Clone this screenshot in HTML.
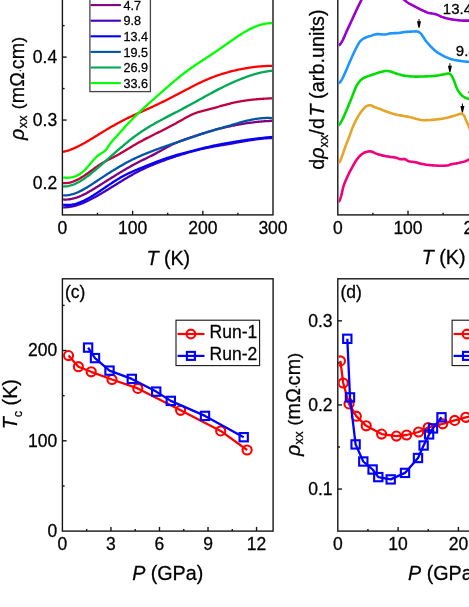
<!DOCTYPE html>
<html><head><meta charset="utf-8"><title>figure</title>
<style>html,body{margin:0;padding:0;background:#fff;overflow:hidden}svg{will-change:transform}body{width:469px;height:607px;font-family:"Liberation Sans", sans-serif}svg{display:block}</style></head>
<body>
<svg width="469" height="607" viewBox="0 0 469 607" font-family='"Liberation Sans", sans-serif' fill="#000" style="display:block">
<style>text{stroke:#000;stroke-width:0.28px;stroke-linejoin:round}</style>
<rect x="0" y="0" width="469" height="607" fill="#fff"/>
<defs><clipPath id="clip_a"><rect x="63.10" y="-36.80" width="209.20" height="251.00"/></clipPath><clipPath id="clip_b"><rect x="338.50" y="-36.80" width="209.30" height="251.00"/></clipPath><clipPath id="clip_c"><rect x="63.10" y="279.50" width="209.30" height="250.90"/></clipPath><clipPath id="clip_d"><rect x="338.50" y="279.50" width="209.30" height="250.90"/></clipPath></defs>
<rect x="62.40" y="-37.50" width="210.60" height="252.40" fill="none" stroke="#161616" stroke-width="1.4"/>
<text x="62.40" y="233.80" font-size="17.5" text-anchor="middle" >0</text>
<line x1="132.60" y1="214.90" x2="132.60" y2="210.70" stroke="#161616" stroke-width="1.4" stroke-linecap="butt"/>
<text x="132.60" y="233.80" font-size="17.5" text-anchor="middle" >100</text>
<line x1="202.80" y1="214.90" x2="202.80" y2="210.70" stroke="#161616" stroke-width="1.4" stroke-linecap="butt"/>
<text x="202.80" y="233.80" font-size="17.5" text-anchor="middle" >200</text>
<text x="273.00" y="233.80" font-size="17.5" text-anchor="middle" >300</text>
<line x1="97.50" y1="214.90" x2="97.50" y2="212.70" stroke="#161616" stroke-width="1.4" stroke-linecap="butt"/>
<line x1="167.70" y1="214.90" x2="167.70" y2="212.70" stroke="#161616" stroke-width="1.4" stroke-linecap="butt"/>
<line x1="237.90" y1="214.90" x2="237.90" y2="212.70" stroke="#161616" stroke-width="1.4" stroke-linecap="butt"/>
<line x1="62.40" y1="183.00" x2="66.60" y2="183.00" stroke="#161616" stroke-width="1.4" stroke-linecap="butt"/>
<text x="57.20" y="188.90" font-size="17.5" text-anchor="end" >0.2</text>
<line x1="62.40" y1="120.05" x2="66.60" y2="120.05" stroke="#161616" stroke-width="1.4" stroke-linecap="butt"/>
<text x="57.20" y="125.95" font-size="17.5" text-anchor="end" >0.3</text>
<line x1="62.40" y1="57.10" x2="66.60" y2="57.10" stroke="#161616" stroke-width="1.4" stroke-linecap="butt"/>
<text x="57.20" y="63.00" font-size="17.5" text-anchor="end" >0.4</text>
<line x1="62.40" y1="-5.85" x2="66.60" y2="-5.85" stroke="#161616" stroke-width="1.4" stroke-linecap="butt"/>
<line x1="62.40" y1="151.53" x2="64.60" y2="151.53" stroke="#161616" stroke-width="1.4" stroke-linecap="butt"/>
<line x1="62.40" y1="88.58" x2="64.60" y2="88.58" stroke="#161616" stroke-width="1.4" stroke-linecap="butt"/>
<line x1="62.40" y1="25.62" x2="64.60" y2="25.62" stroke="#161616" stroke-width="1.4" stroke-linecap="butt"/>
<g clip-path="url(#clip_a)">
<path d="M63.00,207.30 L63.96,207.32 L64.92,207.30 L65.88,207.27 L66.84,207.20 L67.79,207.12 L68.75,207.01 L69.71,206.88 L70.67,206.72 L71.63,206.54 L72.59,206.35 L73.55,206.13 L74.51,205.89 L75.47,205.63 L76.42,205.36 L77.38,205.06 L78.34,204.75 L79.30,204.42 L80.26,204.07 L81.22,203.71 L82.18,203.33 L83.14,202.94 L84.10,202.53 L85.05,202.11 L86.01,201.68 L86.97,201.23 L87.93,200.78 L88.89,200.31 L89.85,199.83 L90.81,199.34 L91.77,198.84 L92.73,198.33 L93.68,197.81 L94.64,197.29 L95.60,196.76 L96.56,196.22 L97.52,195.67 L98.48,195.12 L99.44,194.56 L100.40,194.00 L101.36,193.44 L102.32,192.87 L103.27,192.30 L104.23,191.73 L105.19,191.15 L106.15,190.57 L107.11,189.99 L108.07,189.40 L109.03,188.81 L109.99,188.23 L110.95,187.64 L111.90,187.04 L112.86,186.45 L113.82,185.86 L114.78,185.26 L115.74,184.67 L116.70,184.07 L117.66,183.48 L118.62,182.89 L119.58,182.29 L120.53,181.70 L121.49,181.11 L122.45,180.52 L123.41,179.93 L124.37,179.35 L125.33,178.77 L126.29,178.20 L127.25,177.64 L128.21,177.07 L129.16,176.52 L130.12,175.97 L131.08,175.42 L132.04,174.88 L133.00,174.35 L133.96,173.82 L134.92,173.30 L135.88,172.79 L136.84,172.28 L137.79,171.78 L138.75,171.28 L139.71,170.80 L140.67,170.32 L141.63,169.84 L142.59,169.38 L143.55,168.92 L144.51,168.47 L145.47,168.02 L146.42,167.58 L147.38,167.15 L148.34,166.72 L149.30,166.30 L150.26,165.89 L151.22,165.48 L152.18,165.08 L153.14,164.68 L154.10,164.28 L155.05,163.89 L156.01,163.51 L156.97,163.13 L157.93,162.75 L158.89,162.38 L159.85,162.01 L160.81,161.65 L161.77,161.29 L162.73,160.93 L163.68,160.58 L164.64,160.23 L165.60,159.89 L166.56,159.54 L167.52,159.20 L168.48,158.87 L169.44,158.53 L170.40,158.20 L171.36,157.87 L172.32,157.55 L173.27,157.23 L174.23,156.91 L175.19,156.59 L176.15,156.28 L177.11,155.96 L178.07,155.65 L179.03,155.35 L179.99,155.05 L180.95,154.74 L181.90,154.45 L182.86,154.15 L183.82,153.86 L184.78,153.57 L185.74,153.29 L186.70,153.00 L187.66,152.73 L188.62,152.45 L189.58,152.18 L190.53,151.91 L191.49,151.64 L192.45,151.38 L193.41,151.13 L194.37,150.87 L195.33,150.62 L196.29,150.38 L197.25,150.14 L198.21,149.90 L199.16,149.67 L200.12,149.44 L201.08,149.22 L202.04,149.00 L203.00,148.78 L203.96,148.57 L204.92,148.36 L205.88,148.15 L206.84,147.95 L207.79,147.76 L208.75,147.56 L209.71,147.37 L210.67,147.18 L211.63,147.00 L212.59,146.82 L213.55,146.64 L214.51,146.47 L215.47,146.29 L216.42,146.12 L217.38,145.96 L218.34,145.79 L219.30,145.63 L220.26,145.47 L221.22,145.31 L222.18,145.16 L223.14,145.00 L224.10,144.85 L225.05,144.69 L226.01,144.53 L226.97,144.37 L227.93,144.20 L228.89,144.04 L229.85,143.87 L230.81,143.70 L231.77,143.53 L232.73,143.36 L233.68,143.19 L234.64,143.01 L235.60,142.84 L236.56,142.66 L237.52,142.49 L238.48,142.32 L239.44,142.14 L240.40,141.97 L241.36,141.80 L242.32,141.63 L243.27,141.46 L244.23,141.29 L245.19,141.12 L246.15,140.96 L247.11,140.79 L248.07,140.63 L249.03,140.48 L249.99,140.32 L250.95,140.17 L251.90,140.02 L252.86,139.88 L253.82,139.74 L254.78,139.60 L255.74,139.46 L256.70,139.34 L257.66,139.21 L258.62,139.09 L259.58,138.98 L260.53,138.87 L261.49,138.76 L262.45,138.66 L263.41,138.57 L264.37,138.48 L265.33,138.40 L266.29,138.33 L267.25,138.26 L268.21,138.20 L269.16,138.15 L270.12,138.11 L271.08,138.07 L272.04,138.04 L273.00,138.02" fill="none" stroke="#4000BF" stroke-width="2.3" stroke-linejoin="round" stroke-linecap="butt" />
<path d="M63.00,204.63 L63.96,204.78 L64.92,204.88 L65.88,204.95 L66.84,204.98 L67.79,204.98 L68.75,204.95 L69.71,204.88 L70.67,204.78 L71.63,204.65 L72.59,204.49 L73.55,204.30 L74.51,204.08 L75.47,203.83 L76.42,203.56 L77.38,203.26 L78.34,202.93 L79.30,202.58 L80.26,202.21 L81.22,201.82 L82.18,201.41 L83.14,200.97 L84.10,200.52 L85.05,200.04 L86.01,199.55 L86.97,199.05 L87.93,198.53 L88.89,197.99 L89.85,197.44 L90.81,196.87 L91.77,196.30 L92.73,195.71 L93.68,195.11 L94.64,194.50 L95.60,193.89 L96.56,193.27 L97.52,192.64 L98.48,192.00 L99.44,191.36 L100.40,190.72 L101.36,190.07 L102.32,189.42 L103.27,188.77 L104.23,188.12 L105.19,187.46 L106.15,186.81 L107.11,186.16 L108.07,185.51 L109.03,184.87 L109.99,184.22 L110.95,183.59 L111.90,182.95 L112.86,182.32 L113.82,181.70 L114.78,181.09 L115.74,180.48 L116.70,179.88 L117.66,179.29 L118.62,178.71 L119.58,178.15 L120.53,177.59 L121.49,177.04 L122.45,176.51 L123.41,175.99 L124.37,175.48 L125.33,174.98 L126.29,174.49 L127.25,174.02 L128.21,173.55 L129.16,173.09 L130.12,172.65 L131.08,172.21 L132.04,171.77 L133.00,171.35 L133.96,170.93 L134.92,170.52 L135.88,170.11 L136.84,169.70 L137.79,169.30 L138.75,168.91 L139.71,168.51 L140.67,168.12 L141.63,167.73 L142.59,167.34 L143.55,166.95 L144.51,166.56 L145.47,166.17 L146.42,165.78 L147.38,165.39 L148.34,165.01 L149.30,164.63 L150.26,164.25 L151.22,163.87 L152.18,163.49 L153.14,163.12 L154.10,162.74 L155.05,162.37 L156.01,162.01 L156.97,161.64 L157.93,161.28 L158.89,160.92 L159.85,160.57 L160.81,160.21 L161.77,159.86 L162.73,159.52 L163.68,159.18 L164.64,158.84 L165.60,158.51 L166.56,158.18 L167.52,157.86 L168.48,157.54 L169.44,157.23 L170.40,156.92 L171.36,156.62 L172.32,156.33 L173.27,156.03 L174.23,155.75 L175.19,155.46 L176.15,155.18 L177.11,154.91 L178.07,154.63 L179.03,154.36 L179.99,154.10 L180.95,153.83 L181.90,153.57 L182.86,153.31 L183.82,153.05 L184.78,152.80 L185.74,152.54 L186.70,152.29 L187.66,152.04 L188.62,151.79 L189.58,151.54 L190.53,151.30 L191.49,151.05 L192.45,150.81 L193.41,150.56 L194.37,150.32 L195.33,150.07 L196.29,149.83 L197.25,149.59 L198.21,149.34 L199.16,149.10 L200.12,148.86 L201.08,148.62 L202.04,148.38 L203.00,148.15 L203.96,147.91 L204.92,147.68 L205.88,147.45 L206.84,147.22 L207.79,147.00 L208.75,146.77 L209.71,146.55 L210.67,146.34 L211.63,146.12 L212.59,145.91 L213.55,145.70 L214.51,145.50 L215.47,145.29 L216.42,145.09 L217.38,144.90 L218.34,144.71 L219.30,144.52 L220.26,144.33 L221.22,144.15 L222.18,143.98 L223.14,143.80 L224.10,143.63 L225.05,143.45 L226.01,143.28 L226.97,143.11 L227.93,142.94 L228.89,142.78 L229.85,142.61 L230.81,142.45 L231.77,142.28 L232.73,142.12 L233.68,141.96 L234.64,141.80 L235.60,141.64 L236.56,141.49 L237.52,141.33 L238.48,141.18 L239.44,141.03 L240.40,140.88 L241.36,140.73 L242.32,140.58 L243.27,140.44 L244.23,140.30 L245.19,140.15 L246.15,140.01 L247.11,139.88 L248.07,139.74 L249.03,139.60 L249.99,139.47 L250.95,139.34 L251.90,139.21 L252.86,139.08 L253.82,138.96 L254.78,138.83 L255.74,138.71 L256.70,138.59 L257.66,138.47 L258.62,138.35 L259.58,138.24 L260.53,138.13 L261.49,138.02 L262.45,137.91 L263.41,137.80 L264.37,137.70 L265.33,137.59 L266.29,137.49 L267.25,137.40 L268.21,137.30 L269.16,137.21 L270.12,137.11 L271.08,137.02 L272.04,136.94 L273.00,136.85" fill="none" stroke="#0000FF" stroke-width="2.3" stroke-linejoin="round" stroke-linecap="butt" />
<path d="M63.00,199.42 L63.96,199.50 L64.92,199.54 L65.88,199.55 L66.84,199.53 L67.79,199.47 L68.75,199.38 L69.71,199.26 L70.67,199.11 L71.63,198.93 L72.59,198.72 L73.55,198.49 L74.51,198.23 L75.47,197.94 L76.42,197.63 L77.38,197.30 L78.34,196.94 L79.30,196.57 L80.26,196.17 L81.22,195.76 L82.18,195.32 L83.14,194.87 L84.10,194.40 L85.05,193.92 L86.01,193.42 L86.97,192.91 L87.93,192.38 L88.89,191.85 L89.85,191.30 L90.81,190.74 L91.77,190.17 L92.73,189.60 L93.68,189.02 L94.64,188.43 L95.60,187.84 L96.56,187.24 L97.52,186.64 L98.48,186.03 L99.44,185.43 L100.40,184.82 L101.36,184.22 L102.32,183.61 L103.27,183.01 L104.23,182.40 L105.19,181.80 L106.15,181.20 L107.11,180.59 L108.07,179.99 L109.03,179.39 L109.99,178.79 L110.95,178.19 L111.90,177.59 L112.86,177.00 L113.82,176.40 L114.78,175.81 L115.74,175.21 L116.70,174.62 L117.66,174.03 L118.62,173.44 L119.58,172.86 L120.53,172.27 L121.49,171.69 L122.45,171.11 L123.41,170.54 L124.37,169.97 L125.33,169.40 L126.29,168.84 L127.25,168.28 L128.21,167.73 L129.16,167.19 L130.12,166.65 L131.08,166.11 L132.04,165.58 L133.00,165.06 L133.96,164.54 L134.92,164.02 L135.88,163.51 L136.84,163.01 L137.79,162.51 L138.75,162.01 L139.71,161.52 L140.67,161.04 L141.63,160.56 L142.59,160.08 L143.55,159.61 L144.51,159.14 L145.47,158.68 L146.42,158.21 L147.38,157.74 L148.34,157.28 L149.30,156.81 L150.26,156.33 L151.22,155.86 L152.18,155.37 L153.14,154.89 L154.10,154.39 L155.05,153.89 L156.01,153.38 L156.97,152.86 L157.93,152.33 L158.89,151.79 L159.85,151.25 L160.81,150.70 L161.77,150.15 L162.73,149.61 L163.68,149.06 L164.64,148.52 L165.60,147.98 L166.56,147.45 L167.52,146.93 L168.48,146.42 L169.44,145.92 L170.40,145.43 L171.36,144.96 L172.32,144.50 L173.27,144.05 L174.23,143.62 L175.19,143.19 L176.15,142.78 L177.11,142.37 L178.07,141.97 L179.03,141.59 L179.99,141.21 L180.95,140.83 L181.90,140.47 L182.86,140.11 L183.82,139.76 L184.78,139.41 L185.74,139.07 L186.70,138.73 L187.66,138.40 L188.62,138.07 L189.58,137.75 L190.53,137.43 L191.49,137.11 L192.45,136.79 L193.41,136.47 L194.37,136.16 L195.33,135.84 L196.29,135.53 L197.25,135.22 L198.21,134.91 L199.16,134.60 L200.12,134.29 L201.08,133.98 L202.04,133.68 L203.00,133.38 L203.96,133.08 L204.92,132.78 L205.88,132.48 L206.84,132.19 L207.79,131.90 L208.75,131.62 L209.71,131.33 L210.67,131.06 L211.63,130.78 L212.59,130.51 L213.55,130.24 L214.51,129.98 L215.47,129.72 L216.42,129.47 L217.38,129.22 L218.34,128.97 L219.30,128.73 L220.26,128.50 L221.22,128.26 L222.18,128.04 L223.14,127.82 L224.10,127.60 L225.05,127.38 L226.01,127.16 L226.97,126.95 L227.93,126.74 L228.89,126.53 L229.85,126.33 L230.81,126.13 L231.77,125.93 L232.73,125.73 L233.68,125.54 L234.64,125.35 L235.60,125.17 L236.56,124.98 L237.52,124.80 L238.48,124.63 L239.44,124.45 L240.40,124.28 L241.36,124.12 L242.32,123.95 L243.27,123.79 L244.23,123.64 L245.19,123.48 L246.15,123.33 L247.11,123.19 L248.07,123.05 L249.03,122.91 L249.99,122.78 L250.95,122.65 L251.90,122.52 L252.86,122.40 L253.82,122.28 L254.78,122.17 L255.74,122.06 L256.70,121.95 L257.66,121.85 L258.62,121.76 L259.58,121.67 L260.53,121.58 L261.49,121.50 L262.45,121.42 L263.41,121.34 L264.37,121.27 L265.33,121.21 L266.29,121.15 L267.25,121.09 L268.21,121.04 L269.16,121.00 L270.12,120.96 L271.08,120.92 L272.04,120.89 L273.00,120.87" fill="none" stroke="#800080" stroke-width="2.3" stroke-linejoin="round" stroke-linecap="butt" />
<path d="M63.00,195.33 L63.96,195.37 L64.92,195.38 L65.88,195.35 L66.84,195.28 L67.79,195.18 L68.75,195.04 L69.71,194.87 L70.67,194.67 L71.63,194.43 L72.59,194.17 L73.55,193.88 L74.51,193.56 L75.47,193.21 L76.42,192.84 L77.38,192.44 L78.34,192.03 L79.30,191.59 L80.26,191.12 L81.22,190.64 L82.18,190.14 L83.14,189.63 L84.10,189.09 L85.05,188.54 L86.01,187.98 L86.97,187.41 L87.93,186.82 L88.89,186.22 L89.85,185.61 L90.81,185.00 L91.77,184.37 L92.73,183.74 L93.68,183.11 L94.64,182.47 L95.60,181.83 L96.56,181.18 L97.52,180.54 L98.48,179.90 L99.44,179.25 L100.40,178.61 L101.36,177.98 L102.32,177.35 L103.27,176.72 L104.23,176.09 L105.19,175.47 L106.15,174.85 L107.11,174.24 L108.07,173.62 L109.03,173.02 L109.99,172.41 L110.95,171.81 L111.90,171.22 L112.86,170.63 L113.82,170.04 L114.78,169.45 L115.74,168.87 L116.70,168.30 L117.66,167.72 L118.62,167.16 L119.58,166.59 L120.53,166.03 L121.49,165.48 L122.45,164.93 L123.41,164.38 L124.37,163.85 L125.33,163.32 L126.29,162.79 L127.25,162.28 L128.21,161.77 L129.16,161.26 L130.12,160.77 L131.08,160.28 L132.04,159.80 L133.00,159.32 L133.96,158.85 L134.92,158.39 L135.88,157.94 L136.84,157.49 L137.79,157.05 L138.75,156.61 L139.71,156.18 L140.67,155.76 L141.63,155.34 L142.59,154.93 L143.55,154.52 L144.51,154.12 L145.47,153.73 L146.42,153.34 L147.38,152.95 L148.34,152.57 L149.30,152.20 L150.26,151.83 L151.22,151.46 L152.18,151.09 L153.14,150.73 L154.10,150.38 L155.05,150.02 L156.01,149.67 L156.97,149.32 L157.93,148.98 L158.89,148.63 L159.85,148.29 L160.81,147.95 L161.77,147.61 L162.73,147.27 L163.68,146.94 L164.64,146.61 L165.60,146.27 L166.56,145.94 L167.52,145.61 L168.48,145.28 L169.44,144.95 L170.40,144.62 L171.36,144.29 L172.32,143.96 L173.27,143.64 L174.23,143.31 L175.19,142.98 L176.15,142.65 L177.11,142.33 L178.07,142.00 L179.03,141.67 L179.99,141.35 L180.95,141.02 L181.90,140.69 L182.86,140.36 L183.82,140.04 L184.78,139.71 L185.74,139.39 L186.70,139.06 L187.66,138.73 L188.62,138.41 L189.58,138.08 L190.53,137.76 L191.49,137.43 L192.45,137.11 L193.41,136.79 L194.37,136.46 L195.33,136.14 L196.29,135.82 L197.25,135.50 L198.21,135.18 L199.16,134.87 L200.12,134.55 L201.08,134.24 L202.04,133.92 L203.00,133.61 L203.96,133.30 L204.92,132.99 L205.88,132.68 L206.84,132.38 L207.79,132.07 L208.75,131.77 L209.71,131.47 L210.67,131.17 L211.63,130.88 L212.59,130.58 L213.55,130.29 L214.51,130.00 L215.47,129.71 L216.42,129.42 L217.38,129.14 L218.34,128.86 L219.30,128.58 L220.26,128.30 L221.22,128.02 L222.18,127.74 L223.14,127.47 L224.10,127.19 L225.05,126.91 L226.01,126.64 L226.97,126.36 L227.93,126.08 L228.89,125.79 L229.85,125.51 L230.81,125.23 L231.77,124.94 L232.73,124.66 L233.68,124.38 L234.64,124.10 L235.60,123.82 L236.56,123.54 L237.52,123.26 L238.48,122.99 L239.44,122.72 L240.40,122.45 L241.36,122.19 L242.32,121.93 L243.27,121.68 L244.23,121.43 L245.19,121.18 L246.15,120.95 L247.11,120.71 L248.07,120.49 L249.03,120.27 L249.99,120.06 L250.95,119.86 L251.90,119.66 L252.86,119.47 L253.82,119.30 L254.78,119.13 L255.74,118.97 L256.70,118.82 L257.66,118.68 L258.62,118.55 L259.58,118.44 L260.53,118.33 L261.49,118.24 L262.45,118.16 L263.41,118.09 L264.37,118.03 L265.33,117.99 L266.29,117.97 L267.25,117.95 L268.21,117.96 L269.16,117.97 L270.12,118.00 L271.08,118.05 L272.04,118.12 L273.00,118.20" fill="none" stroke="#0055AA" stroke-width="2.3" stroke-linejoin="round" stroke-linecap="butt" />
<path d="M63.00,183.05 L63.96,183.11 L64.92,183.13 L65.88,183.10 L66.84,183.02 L67.79,182.91 L68.75,182.75 L69.71,182.55 L70.67,182.31 L71.63,182.04 L72.59,181.73 L73.55,181.38 L74.51,181.00 L75.47,180.60 L76.42,180.16 L77.38,179.69 L78.34,179.20 L79.30,178.68 L80.26,178.14 L81.22,177.57 L82.18,176.98 L83.14,176.38 L84.10,175.76 L85.05,175.11 L86.01,174.46 L86.97,173.79 L87.93,173.11 L88.89,172.42 L89.85,171.73 L90.81,171.03 L91.77,170.32 L92.73,169.62 L93.68,168.92 L94.64,168.22 L95.60,167.53 L96.56,166.85 L97.52,166.18 L98.48,165.52 L99.44,164.87 L100.40,164.25 L101.36,163.64 L102.32,163.05 L103.27,162.48 L104.23,161.93 L105.19,161.39 L106.15,160.87 L107.11,160.36 L108.07,159.85 L109.03,159.36 L109.99,158.87 L110.95,158.38 L111.90,157.90 L112.86,157.41 L113.82,156.93 L114.78,156.44 L115.74,155.95 L116.70,155.45 L117.66,154.95 L118.62,154.43 L119.58,153.91 L120.53,153.36 L121.49,152.81 L122.45,152.25 L123.41,151.67 L124.37,151.09 L125.33,150.51 L126.29,149.92 L127.25,149.33 L128.21,148.74 L129.16,148.15 L130.12,147.57 L131.08,146.99 L132.04,146.41 L133.00,145.84 L133.96,145.27 L134.92,144.70 L135.88,144.15 L136.84,143.59 L137.79,143.04 L138.75,142.50 L139.71,141.97 L140.67,141.44 L141.63,140.92 L142.59,140.40 L143.55,139.89 L144.51,139.38 L145.47,138.88 L146.42,138.38 L147.38,137.89 L148.34,137.40 L149.30,136.92 L150.26,136.43 L151.22,135.95 L152.18,135.47 L153.14,135.00 L154.10,134.52 L155.05,134.04 L156.01,133.57 L156.97,133.09 L157.93,132.62 L158.89,132.14 L159.85,131.67 L160.81,131.19 L161.77,130.71 L162.73,130.23 L163.68,129.74 L164.64,129.25 L165.60,128.76 L166.56,128.27 L167.52,127.77 L168.48,127.27 L169.44,126.76 L170.40,126.26 L171.36,125.74 L172.32,125.23 L173.27,124.71 L174.23,124.19 L175.19,123.67 L176.15,123.14 L177.11,122.61 L178.07,122.08 L179.03,121.55 L179.99,121.02 L180.95,120.48 L181.90,119.94 L182.86,119.40 L183.82,118.86 L184.78,118.33 L185.74,117.80 L186.70,117.27 L187.66,116.76 L188.62,116.25 L189.58,115.76 L190.53,115.28 L191.49,114.81 L192.45,114.37 L193.41,113.94 L194.37,113.54 L195.33,113.16 L196.29,112.81 L197.25,112.47 L198.21,112.16 L199.16,111.87 L200.12,111.59 L201.08,111.32 L202.04,111.06 L203.00,110.82 L203.96,110.58 L204.92,110.35 L205.88,110.12 L206.84,109.89 L207.79,109.66 L208.75,109.42 L209.71,109.18 L210.67,108.93 L211.63,108.68 L212.59,108.42 L213.55,108.15 L214.51,107.88 L215.47,107.60 L216.42,107.32 L217.38,107.04 L218.34,106.76 L219.30,106.48 L220.26,106.20 L221.22,105.93 L222.18,105.65 L223.14,105.38 L224.10,105.11 L225.05,104.84 L226.01,104.58 L226.97,104.32 L227.93,104.07 L228.89,103.83 L229.85,103.59 L230.81,103.36 L231.77,103.13 L232.73,102.91 L233.68,102.70 L234.64,102.49 L235.60,102.29 L236.56,102.10 L237.52,101.91 L238.48,101.73 L239.44,101.55 L240.40,101.38 L241.36,101.21 L242.32,101.05 L243.27,100.90 L244.23,100.75 L245.19,100.60 L246.15,100.46 L247.11,100.33 L248.07,100.20 L249.03,100.08 L249.99,99.96 L250.95,99.84 L251.90,99.73 L252.86,99.63 L253.82,99.53 L254.78,99.43 L255.74,99.34 L256.70,99.25 L257.66,99.17 L258.62,99.09 L259.58,99.01 L260.53,98.94 L261.49,98.87 L262.45,98.81 L263.41,98.74 L264.37,98.69 L265.33,98.63 L266.29,98.58 L267.25,98.53 L268.21,98.49 L269.16,98.45 L270.12,98.41 L271.08,98.38 L272.04,98.34 L273.00,98.31" fill="none" stroke="#BF0040" stroke-width="2.3" stroke-linejoin="round" stroke-linecap="butt" />
<path d="M63.00,186.50 L63.96,186.51 L64.92,186.47 L65.88,186.40 L66.84,186.28 L67.79,186.13 L68.75,185.94 L69.71,185.71 L70.67,185.45 L71.63,185.16 L72.59,184.83 L73.55,184.48 L74.51,184.09 L75.47,183.67 L76.42,183.22 L77.38,182.74 L78.34,182.24 L79.30,181.71 L80.26,181.16 L81.22,180.58 L82.18,179.98 L83.14,179.36 L84.10,178.72 L85.05,178.06 L86.01,177.38 L86.97,176.68 L87.93,175.97 L88.89,175.24 L89.85,174.49 L90.81,173.73 L91.77,172.96 L92.73,172.18 L93.68,171.39 L94.64,170.58 L95.60,169.77 L96.56,168.95 L97.52,168.13 L98.48,167.30 L99.44,166.46 L100.40,165.62 L101.36,164.78 L102.32,163.94 L103.27,163.09 L104.23,162.24 L105.19,161.40 L106.15,160.55 L107.11,159.70 L108.07,158.85 L109.03,158.00 L109.99,157.15 L110.95,156.30 L111.90,155.46 L112.86,154.61 L113.82,153.77 L114.78,152.92 L115.74,152.08 L116.70,151.24 L117.66,150.41 L118.62,149.57 L119.58,148.74 L120.53,147.91 L121.49,147.09 L122.45,146.27 L123.41,145.46 L124.37,144.65 L125.33,143.85 L126.29,143.06 L127.25,142.27 L128.21,141.50 L129.16,140.73 L130.12,139.97 L131.08,139.21 L132.04,138.47 L133.00,137.74 L133.96,137.01 L134.92,136.29 L135.88,135.59 L136.84,134.89 L137.79,134.20 L138.75,133.52 L139.71,132.85 L140.67,132.20 L141.63,131.55 L142.59,130.91 L143.55,130.28 L144.51,129.66 L145.47,129.05 L146.42,128.45 L147.38,127.85 L148.34,127.26 L149.30,126.68 L150.26,126.11 L151.22,125.55 L152.18,124.99 L153.14,124.43 L154.10,123.88 L155.05,123.34 L156.01,122.80 L156.97,122.27 L157.93,121.74 L158.89,121.22 L159.85,120.70 L160.81,120.18 L161.77,119.66 L162.73,119.15 L163.68,118.64 L164.64,118.14 L165.60,117.63 L166.56,117.13 L167.52,116.63 L168.48,116.13 L169.44,115.63 L170.40,115.13 L171.36,114.63 L172.32,114.14 L173.27,113.64 L174.23,113.14 L175.19,112.64 L176.15,112.15 L177.11,111.65 L178.07,111.15 L179.03,110.65 L179.99,110.15 L180.95,109.65 L181.90,109.14 L182.86,108.64 L183.82,108.13 L184.78,107.63 L185.74,107.12 L186.70,106.61 L187.66,106.10 L188.62,105.58 L189.58,105.07 L190.53,104.55 L191.49,104.03 L192.45,103.51 L193.41,102.98 L194.37,102.46 L195.33,101.93 L196.29,101.40 L197.25,100.87 L198.21,100.34 L199.16,99.80 L200.12,99.27 L201.08,98.73 L202.04,98.20 L203.00,97.66 L203.96,97.13 L204.92,96.59 L205.88,96.06 L206.84,95.53 L207.79,95.00 L208.75,94.47 L209.71,93.95 L210.67,93.42 L211.63,92.90 L212.59,92.39 L213.55,91.87 L214.51,91.36 L215.47,90.86 L216.42,90.36 L217.38,89.86 L218.34,89.37 L219.30,88.88 L220.26,88.39 L221.22,87.91 L222.18,87.44 L223.14,86.97 L224.10,86.51 L225.05,86.04 L226.01,85.58 L226.97,85.13 L227.93,84.67 L228.89,84.22 L229.85,83.78 L230.81,83.34 L231.77,82.90 L232.73,82.47 L233.68,82.05 L234.64,81.62 L235.60,81.21 L236.56,80.79 L237.52,80.39 L238.48,79.99 L239.44,79.59 L240.40,79.20 L241.36,78.82 L242.32,78.44 L243.27,78.07 L244.23,77.71 L245.19,77.35 L246.15,77.00 L247.11,76.66 L248.07,76.32 L249.03,75.99 L249.99,75.67 L250.95,75.36 L251.90,75.05 L252.86,74.75 L253.82,74.46 L254.78,74.18 L255.74,73.91 L256.70,73.65 L257.66,73.39 L258.62,73.15 L259.58,72.91 L260.53,72.68 L261.49,72.46 L262.45,72.25 L263.41,72.06 L264.37,71.87 L265.33,71.69 L266.29,71.52 L267.25,71.36 L268.21,71.22 L269.16,71.08 L270.12,70.95 L271.08,70.84 L272.04,70.74 L273.00,70.65" fill="none" stroke="#00AA55" stroke-width="2.3" stroke-linejoin="round" stroke-linecap="butt" />
<path d="M63.00,151.81 L63.96,151.62 L64.92,151.40 L65.88,151.16 L66.84,150.89 L67.79,150.61 L68.75,150.30 L69.71,149.98 L70.67,149.63 L71.63,149.27 L72.59,148.89 L73.55,148.49 L74.51,148.08 L75.47,147.65 L76.42,147.21 L77.38,146.75 L78.34,146.28 L79.30,145.79 L80.26,145.30 L81.22,144.79 L82.18,144.28 L83.14,143.75 L84.10,143.22 L85.05,142.67 L86.01,142.12 L86.97,141.57 L87.93,141.00 L88.89,140.44 L89.85,139.86 L90.81,139.29 L91.77,138.71 L92.73,138.12 L93.68,137.53 L94.64,136.95 L95.60,136.35 L96.56,135.76 L97.52,135.17 L98.48,134.57 L99.44,133.98 L100.40,133.39 L101.36,132.80 L102.32,132.21 L103.27,131.62 L104.23,131.03 L105.19,130.45 L106.15,129.87 L107.11,129.29 L108.07,128.72 L109.03,128.16 L109.99,127.60 L110.95,127.04 L111.90,126.50 L112.86,125.95 L113.82,125.41 L114.78,124.88 L115.74,124.35 L116.70,123.82 L117.66,123.30 L118.62,122.79 L119.58,122.27 L120.53,121.76 L121.49,121.26 L122.45,120.76 L123.41,120.26 L124.37,119.77 L125.33,119.29 L126.29,118.81 L127.25,118.33 L128.21,117.86 L129.16,117.40 L130.12,116.93 L131.08,116.48 L132.04,116.02 L133.00,115.58 L133.96,115.13 L134.92,114.69 L135.88,114.25 L136.84,113.81 L137.79,113.37 L138.75,112.94 L139.71,112.51 L140.67,112.08 L141.63,111.65 L142.59,111.22 L143.55,110.79 L144.51,110.36 L145.47,109.94 L146.42,109.51 L147.38,109.08 L148.34,108.65 L149.30,108.21 L150.26,107.78 L151.22,107.34 L152.18,106.90 L153.14,106.46 L154.10,106.02 L155.05,105.57 L156.01,105.12 L156.97,104.66 L157.93,104.21 L158.89,103.74 L159.85,103.28 L160.81,102.81 L161.77,102.34 L162.73,101.87 L163.68,101.40 L164.64,100.92 L165.60,100.44 L166.56,99.95 L167.52,99.47 L168.48,98.98 L169.44,98.49 L170.40,97.99 L171.36,97.50 L172.32,97.00 L173.27,96.50 L174.23,96.00 L175.19,95.50 L176.15,95.00 L177.11,94.49 L178.07,93.98 L179.03,93.48 L179.99,92.97 L180.95,92.46 L181.90,91.96 L182.86,91.45 L183.82,90.94 L184.78,90.44 L185.74,89.93 L186.70,89.43 L187.66,88.93 L188.62,88.42 L189.58,87.93 L190.53,87.43 L191.49,86.94 L192.45,86.44 L193.41,85.96 L194.37,85.47 L195.33,84.99 L196.29,84.51 L197.25,84.04 L198.21,83.57 L199.16,83.11 L200.12,82.65 L201.08,82.20 L202.04,81.76 L203.00,81.31 L203.96,80.88 L204.92,80.45 L205.88,80.03 L206.84,79.61 L207.79,79.20 L208.75,78.80 L209.71,78.41 L210.67,78.02 L211.63,77.63 L212.59,77.26 L213.55,76.89 L214.51,76.53 L215.47,76.18 L216.42,75.83 L217.38,75.50 L218.34,75.17 L219.30,74.84 L220.26,74.53 L221.22,74.22 L222.18,73.92 L223.14,73.63 L224.10,73.34 L225.05,73.06 L226.01,72.78 L226.97,72.51 L227.93,72.24 L228.89,71.98 L229.85,71.73 L230.81,71.47 L231.77,71.23 L232.73,70.99 L233.68,70.75 L234.64,70.52 L235.60,70.30 L236.56,70.08 L237.52,69.87 L238.48,69.66 L239.44,69.46 L240.40,69.26 L241.36,69.07 L242.32,68.88 L243.27,68.70 L244.23,68.52 L245.19,68.35 L246.15,68.19 L247.11,68.03 L248.07,67.87 L249.03,67.72 L249.99,67.58 L250.95,67.44 L251.90,67.31 L252.86,67.19 L253.82,67.06 L254.78,66.95 L255.74,66.84 L256.70,66.73 L257.66,66.64 L258.62,66.54 L259.58,66.46 L260.53,66.37 L261.49,66.30 L262.45,66.23 L263.41,66.16 L264.37,66.10 L265.33,66.05 L266.29,66.00 L267.25,65.96 L268.21,65.92 L269.16,65.89 L270.12,65.86 L271.08,65.84 L272.04,65.83 L273.00,65.82" fill="none" stroke="#FF0000" stroke-width="2.3" stroke-linejoin="round" stroke-linecap="butt" />
<path d="M63.00,177.55 L63.96,177.64 L64.92,177.70 L65.88,177.74 L66.84,177.75 L67.79,177.73 L68.75,177.68 L69.71,177.59 L70.67,177.47 L71.63,177.31 L72.59,177.11 L73.55,176.86 L74.51,176.57 L75.47,176.23 L76.42,175.83 L77.38,175.39 L78.34,174.89 L79.30,174.34 L80.26,173.72 L81.22,173.04 L82.18,172.30 L83.14,171.49 L84.10,170.62 L85.05,169.67 L86.01,168.66 L86.97,167.61 L87.93,166.51 L88.89,165.38 L89.85,164.24 L90.81,163.10 L91.77,161.97 L92.73,160.85 L93.68,159.77 L94.64,158.73 L95.60,157.74 L96.56,156.82 L97.52,155.98 L98.48,155.21 L99.44,154.51 L100.40,153.86 L101.36,153.24 L102.32,152.63 L103.27,152.03 L104.23,151.39 L105.19,150.63 L106.15,149.65 L107.11,148.38 L108.07,146.90 L109.03,145.38 L109.99,143.96 L110.95,142.67 L111.90,141.48 L112.86,140.37 L113.82,139.31 L114.78,138.27 L115.74,137.22 L116.70,136.17 L117.66,135.11 L118.62,134.05 L119.58,132.98 L120.53,131.91 L121.49,130.84 L122.45,129.77 L123.41,128.70 L124.37,127.64 L125.33,126.58 L126.29,125.53 L127.25,124.49 L128.21,123.46 L129.16,122.45 L130.12,121.44 L131.08,120.45 L132.04,119.46 L133.00,118.49 L133.96,117.52 L134.92,116.57 L135.88,115.62 L136.84,114.68 L137.79,113.75 L138.75,112.83 L139.71,111.92 L140.67,111.01 L141.63,110.11 L142.59,109.21 L143.55,108.32 L144.51,107.44 L145.47,106.56 L146.42,105.68 L147.38,104.81 L148.34,103.94 L149.30,103.08 L150.26,102.21 L151.22,101.35 L152.18,100.49 L153.14,99.63 L154.10,98.78 L155.05,97.92 L156.01,97.07 L156.97,96.21 L157.93,95.36 L158.89,94.51 L159.85,93.66 L160.81,92.81 L161.77,91.96 L162.73,91.12 L163.68,90.28 L164.64,89.44 L165.60,88.60 L166.56,87.76 L167.52,86.93 L168.48,86.10 L169.44,85.28 L170.40,84.45 L171.36,83.64 L172.32,82.82 L173.27,82.01 L174.23,81.21 L175.19,80.40 L176.15,79.61 L177.11,78.82 L178.07,78.03 L179.03,77.25 L179.99,76.48 L180.95,75.71 L181.90,74.96 L182.86,74.20 L183.82,73.46 L184.78,72.72 L185.74,71.99 L186.70,71.28 L187.66,70.57 L188.62,69.86 L189.58,69.17 L190.53,68.49 L191.49,67.81 L192.45,67.14 L193.41,66.47 L194.37,65.81 L195.33,65.16 L196.29,64.51 L197.25,63.87 L198.21,63.23 L199.16,62.59 L200.12,61.96 L201.08,61.33 L202.04,60.70 L203.00,60.08 L203.96,59.45 L204.92,58.83 L205.88,58.20 L206.84,57.58 L207.79,56.95 L208.75,56.32 L209.71,55.70 L210.67,55.07 L211.63,54.43 L212.59,53.80 L213.55,53.15 L214.51,52.51 L215.47,51.86 L216.42,51.20 L217.38,50.54 L218.34,49.88 L219.30,49.22 L220.26,48.55 L221.22,47.88 L222.18,47.21 L223.14,46.53 L224.10,45.86 L225.05,45.18 L226.01,44.51 L226.97,43.83 L227.93,43.15 L228.89,42.47 L229.85,41.80 L230.81,41.13 L231.77,40.46 L232.73,39.79 L233.68,39.13 L234.64,38.47 L235.60,37.82 L236.56,37.17 L237.52,36.53 L238.48,35.90 L239.44,35.27 L240.40,34.66 L241.36,34.05 L242.32,33.45 L243.27,32.87 L244.23,32.29 L245.19,31.73 L246.15,31.18 L247.11,30.64 L248.07,30.11 L249.03,29.60 L249.99,29.10 L250.95,28.62 L251.90,28.16 L252.86,27.71 L253.82,27.28 L254.78,26.87 L255.74,26.47 L256.70,26.10 L257.66,25.74 L258.62,25.41 L259.58,25.10 L260.53,24.80 L261.49,24.53 L262.45,24.29 L263.41,24.07 L264.37,23.87 L265.33,23.69 L266.29,23.55 L267.25,23.43 L268.21,23.33 L269.16,23.26 L270.12,23.22 L271.08,23.21 L272.04,23.23 L273.00,23.28" fill="none" stroke="#00FF00" stroke-width="2.3" stroke-linejoin="round" stroke-linecap="butt" />
</g>
<rect x="89.9" y="-30.0" width="60.50" height="121.60" fill="#fff" stroke="#444" stroke-width="1.3"/>
<line x1="90.60" y1="-10.50" x2="120.90" y2="-10.50" stroke="#BF0040" stroke-width="2.1" stroke-linecap="butt"/>
<text x="123.40" y="-5.90" font-size="12.6" text-anchor="start" >1.5</text>
<line x1="90.60" y1="5.10" x2="120.90" y2="5.10" stroke="#800080" stroke-width="2.1" stroke-linecap="butt"/>
<text x="123.40" y="9.70" font-size="12.6" text-anchor="start" >4.7</text>
<line x1="90.60" y1="20.70" x2="120.90" y2="20.70" stroke="#4000BF" stroke-width="2.1" stroke-linecap="butt"/>
<text x="123.40" y="25.30" font-size="12.6" text-anchor="start" >9.8</text>
<line x1="90.60" y1="36.30" x2="120.90" y2="36.30" stroke="#0000FF" stroke-width="2.1" stroke-linecap="butt"/>
<text x="123.40" y="40.90" font-size="12.6" text-anchor="start" >13.4</text>
<line x1="90.60" y1="51.90" x2="120.90" y2="51.90" stroke="#0055AA" stroke-width="2.1" stroke-linecap="butt"/>
<text x="123.40" y="56.50" font-size="12.6" text-anchor="start" >19.5</text>
<line x1="90.60" y1="67.50" x2="120.90" y2="67.50" stroke="#00AA55" stroke-width="2.1" stroke-linecap="butt"/>
<text x="123.40" y="72.10" font-size="12.6" text-anchor="start" >26.9</text>
<line x1="90.60" y1="83.10" x2="120.90" y2="83.10" stroke="#00FF00" stroke-width="2.1" stroke-linecap="butt"/>
<text x="123.40" y="87.70" font-size="12.6" text-anchor="start" >33.6</text>
<text x="168.3" y="264.5" font-size="19.7" text-anchor="middle"><tspan font-style="italic">T</tspan> (K)</text>
<text transform="translate(24.00,88.20) rotate(-90)" font-size="19.7" text-anchor="middle" letter-spacing="0.32"><tspan font-style="italic">ρ</tspan><tspan font-size="12.6" dy="3.3">xx</tspan><tspan dy="-3.3"> </tspan><tspan font-size="17">(</tspan>mΩ<tspan font-size="10" dx="-0.4" dy="-2.6">.</tspan><tspan dx="-0.4" dy="2.6">cm</tspan><tspan font-size="17">)</tspan></text>
<rect x="337.80" y="-37.50" width="210.70" height="252.40" fill="none" stroke="#161616" stroke-width="1.4"/>
<text x="337.80" y="233.80" font-size="17.5" text-anchor="middle" >0</text>
<line x1="408.00" y1="214.90" x2="408.00" y2="210.70" stroke="#161616" stroke-width="1.4" stroke-linecap="butt"/>
<text x="408.00" y="233.80" font-size="17.5" text-anchor="middle" >100</text>
<line x1="478.20" y1="214.90" x2="478.20" y2="210.70" stroke="#161616" stroke-width="1.4" stroke-linecap="butt"/>
<text x="478.20" y="233.80" font-size="17.5" text-anchor="middle" >200</text>
<line x1="372.90" y1="214.90" x2="372.90" y2="212.70" stroke="#161616" stroke-width="1.4" stroke-linecap="butt"/>
<line x1="443.10" y1="214.90" x2="443.10" y2="212.70" stroke="#161616" stroke-width="1.4" stroke-linecap="butt"/>
<g clip-path="url(#clip_b)">
<path d="M338.60,45.40 L339.66,44.75 L340.49,43.85 L341.20,42.79 L341.85,41.71 L342.46,40.64 L343.03,39.54 L343.56,38.41 L344.08,37.27 L344.57,36.12 L345.06,34.96 L345.55,33.80 L346.04,32.65 L346.54,31.50 L347.06,30.36 L347.58,29.23 L348.11,28.10 L348.64,26.97 L349.18,25.84 L349.71,24.71 L350.24,23.58 L350.77,22.45 L351.30,21.32 L351.83,20.19 L352.35,19.06 L352.87,17.92 L353.39,16.79 L353.91,15.65 L354.42,14.51 L354.94,13.38 L355.46,12.24 L355.98,11.11 L356.50,9.98 L357.04,8.85 L357.57,7.72 L358.12,6.60 L358.67,5.48 L359.22,4.36 L359.78,3.24 L360.33,2.12 L360.89,1.01 L361.45,-0.11 L362.02,-1.22 L362.58,-2.34 L363.14,-3.45 L363.71,-4.56 L364.28,-5.67 L364.85,-6.78 L365.43,-7.89 L366.00,-9.00" fill="none" stroke="#9900CC" stroke-width="2.6" stroke-linejoin="round" stroke-linecap="butt" />
<path d="M400.00,-4.00 L400.56,-3.43 L401.13,-2.86 L401.71,-2.30 L402.29,-1.76 L402.88,-1.22 L403.48,-0.69 L404.09,-0.18 L404.70,0.33 L405.32,0.84 L405.95,1.33 L406.59,1.82 L407.24,2.29 L407.90,2.74 L408.57,3.17 L409.26,3.57 L409.96,3.95 L410.67,4.32 L411.38,4.70 L412.08,5.08 L412.78,5.46 L413.49,5.84 L414.19,6.22 L414.90,6.60 L415.60,6.97 L416.31,7.34 L417.02,7.71 L417.74,8.07 L418.45,8.42 L419.17,8.78 L419.88,9.13 L420.60,9.49 L421.32,9.83 L422.05,10.17 L422.77,10.51 L423.50,10.84 L424.23,11.16 L424.97,11.47 L425.70,11.79 L426.44,12.11 L427.19,12.42 L427.94,12.69 L428.70,12.93 L429.47,13.10 L430.25,13.23 L431.05,13.35 L431.84,13.46 L432.64,13.58 L433.42,13.73 L434.20,13.90 L434.98,14.10 L435.75,14.33 L436.51,14.56 L437.27,14.82 L438.01,15.10 L438.74,15.43 L439.45,15.79 L440.17,16.16 L440.89,16.52 L441.62,16.83 L442.37,17.10 L443.13,17.36 L443.89,17.59 L444.66,17.82 L445.43,18.03 L446.21,18.23 L446.98,18.41 L447.76,18.59 L448.55,18.76 L449.33,18.92 L450.12,19.07 L450.90,19.21 L451.69,19.35 L452.48,19.48 L453.27,19.61 L454.06,19.72 L454.85,19.83 L455.64,19.94 L456.44,20.04 L457.23,20.13 L458.02,20.22 L458.82,20.29 L459.62,20.37 L460.41,20.44 L461.21,20.51 L462.01,20.57 L462.81,20.60 L463.60,20.60 L464.40,20.60 L465.20,20.60 L466.00,20.60 L466.80,20.60 L467.60,20.60 L468.40,20.60 L469.20,20.60 L470.00,20.60" fill="none" stroke="#9900CC" stroke-width="2.6" stroke-linejoin="round" stroke-linecap="butt" />
<path d="M338.60,83.40 L339.39,82.79 L340.07,82.11 L340.68,81.33 L341.24,80.51 L341.76,79.67 L342.24,78.82 L342.70,77.96 L343.14,77.08 L343.55,76.18 L343.96,75.28 L344.36,74.38 L344.76,73.47 L345.17,72.58 L345.57,71.68 L345.97,70.78 L346.37,69.88 L346.76,68.98 L347.15,68.07 L347.53,67.17 L347.91,66.26 L348.30,65.35 L348.68,64.45 L349.07,63.54 L349.46,62.64 L349.85,61.74 L350.25,60.84 L350.65,59.94 L351.05,59.04 L351.45,58.14 L351.85,57.24 L352.25,56.33 L352.65,55.43 L353.06,54.54 L353.47,53.64 L353.89,52.75 L354.31,51.86 L354.74,50.98 L355.19,50.11 L355.64,49.23 L356.09,48.35 L356.54,47.45 L356.99,46.54 L357.45,45.63 L357.93,44.74 L358.43,43.87 L358.94,43.03 L359.49,42.24 L360.07,41.49 L360.69,40.80 L361.39,40.16 L362.17,39.54 L363.00,38.97 L363.87,38.44 L364.74,37.98 L365.61,37.57 L366.52,37.20 L367.44,36.86 L368.38,36.54 L369.33,36.24 L370.28,35.95 L371.23,35.67 L372.17,35.36 L373.12,35.04 L374.07,34.73 L375.03,34.46 L375.99,34.25 L376.95,34.13 L377.92,34.10 L378.89,34.14 L379.88,34.20 L380.86,34.28 L381.85,34.37 L382.84,34.44 L383.82,34.49 L384.80,34.49 L385.77,34.40 L386.74,34.23 L387.70,34.01 L388.67,33.77 L389.64,33.55 L390.61,33.37 L391.58,33.28 L392.56,33.23 L393.54,33.19 L394.53,33.15 L395.52,33.12 L396.50,33.09 L397.48,33.04 L398.46,32.97 L399.44,32.86 L400.41,32.71 L401.38,32.54 L402.35,32.36 L403.33,32.20 L404.30,32.06 L405.28,31.97 L406.26,31.89 L407.24,31.83 L408.22,31.77 L409.21,31.72 L410.19,31.66 L411.18,31.60 L412.17,31.55 L413.16,31.49 L414.15,31.45 L415.13,31.42 L416.09,31.40 L417.07,31.48 L418.05,31.77 L418.97,32.18 L419.76,32.62 L420.47,33.24 L421.13,34.00 L421.75,34.83 L422.35,35.67 L422.94,36.46 L423.49,37.27 L424.01,38.11 L424.53,38.95 L425.05,39.79 L425.60,40.60 L426.20,41.38 L426.83,42.13 L427.49,42.86 L428.16,43.59 L428.82,44.32 L429.48,45.05 L430.14,45.79 L430.79,46.52 L431.46,47.25 L432.14,47.96 L432.84,48.64 L433.56,49.31 L434.30,49.97 L435.05,50.62 L435.81,51.24 L436.59,51.85 L437.38,52.42 L438.20,52.96 L439.04,53.47 L439.89,53.96 L440.76,54.44 L441.63,54.91 L442.49,55.38 L443.36,55.85 L444.23,56.30 L445.11,56.74 L446.00,57.16 L446.90,57.54 L447.82,57.91 L448.74,58.26 L449.67,58.59 L450.60,58.90 L451.54,59.19 L452.49,59.47 L453.44,59.73 L454.40,59.96 L455.36,60.15 L456.33,60.31 L457.30,60.46 L458.28,60.61 L459.25,60.75 L460.22,60.90 L461.20,61.05 L462.17,61.18 L463.15,61.31 L464.12,61.42 L465.10,61.53 L466.08,61.64 L467.06,61.74 L468.04,61.83 L469.02,61.92 L470.00,62.00" fill="none" stroke="#1E96FF" stroke-width="2.6" stroke-linejoin="round" stroke-linecap="butt" />
<path d="M338.60,125.20 L339.41,124.45 L340.09,123.61 L340.68,122.69 L341.21,121.73 L341.72,120.75 L342.23,119.78 L342.72,118.81 L343.20,117.82 L343.66,116.83 L344.12,115.84 L344.57,114.84 L345.02,113.84 L345.46,112.83 L345.90,111.83 L346.33,110.82 L346.76,109.82 L347.20,108.81 L347.62,107.80 L348.04,106.79 L348.45,105.78 L348.86,104.76 L349.27,103.75 L349.67,102.73 L350.08,101.71 L350.48,100.70 L350.89,99.68 L351.30,98.66 L351.71,97.65 L352.13,96.64 L352.54,95.62 L352.94,94.59 L353.33,93.55 L353.72,92.51 L354.11,91.46 L354.50,90.43 L354.91,89.40 L355.33,88.39 L355.78,87.39 L356.25,86.42 L356.75,85.48 L357.28,84.56 L357.87,83.65 L358.51,82.74 L359.19,81.84 L359.92,80.98 L360.69,80.17 L361.49,79.43 L362.32,78.79 L363.23,78.23 L364.22,77.74 L365.25,77.29 L366.26,76.87 L367.27,76.48 L368.30,76.11 L369.34,75.75 L370.38,75.41 L371.42,75.06 L372.46,74.71 L373.50,74.35 L374.53,73.98 L375.56,73.61 L376.60,73.25 L377.64,72.91 L378.68,72.59 L379.74,72.31 L380.80,72.02 L381.86,71.72 L382.94,71.45 L384.01,71.22 L385.09,71.06 L386.17,71.00 L387.27,71.03 L388.37,71.10 L389.45,71.20 L390.50,71.42 L391.53,71.81 L392.56,72.24 L393.60,72.60 L394.63,72.96 L395.67,73.32 L396.71,73.67 L397.75,74.01 L398.79,74.33 L399.85,74.61 L400.91,74.88 L401.97,75.15 L403.04,75.40 L404.12,75.62 L405.20,75.82 L406.28,75.97 L407.36,76.07 L408.45,76.18 L409.54,76.27 L410.63,76.36 L411.72,76.44 L412.82,76.50 L413.92,76.55 L415.01,76.59 L416.11,76.60 L417.20,76.60 L418.29,76.59 L419.39,76.57 L420.48,76.55 L421.58,76.53 L422.67,76.51 L423.77,76.48 L424.86,76.45 L425.95,76.41 L427.05,76.35 L428.14,76.30 L429.23,76.24 L430.33,76.17 L431.42,76.10 L432.51,76.02 L433.60,75.93 L434.69,75.83 L435.78,75.71 L436.87,75.59 L437.95,75.44 L439.03,75.27 L440.11,75.07 L441.18,74.86 L442.26,74.65 L443.33,74.45 L444.42,74.24 L445.53,73.99 L446.64,73.75 L447.71,73.57 L448.72,73.50 L449.71,73.84 L450.64,74.59 L451.39,75.40 L451.98,76.25 L452.49,77.21 L452.94,78.24 L453.38,79.30 L453.81,80.33 L454.23,81.33 L454.63,82.36 L455.00,83.40 L455.36,84.44 L455.73,85.48 L456.11,86.51 L456.52,87.52 L456.96,88.51 L457.45,89.47 L457.98,90.44 L458.56,91.39 L459.17,92.31 L459.83,93.20 L460.52,94.02 L461.27,94.79 L462.08,95.56 L462.95,96.28 L463.86,96.92 L464.79,97.45 L465.75,97.88 L466.75,98.28 L467.80,98.62 L468.88,98.90 L470.00,99.10" fill="none" stroke="#00DC00" stroke-width="2.6" stroke-linejoin="round" stroke-linecap="butt" />
<path d="M338.60,162.80 L339.45,162.04 L340.07,161.15 L340.55,160.13 L340.97,159.08 L341.38,158.04 L341.78,157.00 L342.17,155.95 L342.54,154.89 L342.90,153.83 L343.25,152.77 L343.61,151.71 L343.96,150.64 L344.32,149.58 L344.69,148.52 L345.06,147.47 L345.45,146.42 L345.85,145.37 L346.25,144.33 L346.66,143.29 L347.07,142.24 L347.48,141.20 L347.89,140.16 L348.30,139.12 L348.71,138.08 L349.11,137.03 L349.51,135.99 L349.89,134.93 L350.26,133.88 L350.63,132.82 L350.99,131.76 L351.37,130.70 L351.76,129.66 L352.17,128.62 L352.60,127.59 L353.04,126.56 L353.48,125.53 L353.94,124.50 L354.41,123.48 L354.89,122.46 L355.38,121.46 L355.89,120.46 L356.40,119.46 L356.93,118.48 L357.47,117.51 L358.03,116.54 L358.61,115.58 L359.20,114.62 L359.82,113.67 L360.45,112.74 L361.10,111.83 L361.78,110.94 L362.48,110.09 L363.20,109.19 L363.96,108.28 L364.75,107.43 L365.59,106.70 L366.49,106.15 L367.49,105.74 L368.60,105.40 L369.72,105.21 L370.78,105.30 L371.81,105.70 L372.84,106.24 L373.88,106.76 L374.92,107.18 L375.96,107.58 L377.01,107.97 L378.06,108.36 L379.11,108.75 L380.16,109.14 L381.20,109.54 L382.25,109.94 L383.29,110.35 L384.33,110.77 L385.38,111.17 L386.42,111.57 L387.47,111.95 L388.53,112.32 L389.59,112.67 L390.66,113.02 L391.72,113.36 L392.80,113.69 L393.87,113.99 L394.96,114.26 L396.04,114.52 L397.14,114.75 L398.24,114.98 L399.34,115.19 L400.44,115.40 L401.54,115.61 L402.64,115.81 L403.74,115.99 L404.85,116.17 L405.95,116.35 L407.06,116.54 L408.16,116.73 L409.26,116.95 L410.35,117.19 L411.43,117.47 L412.51,117.77 L413.59,118.08 L414.66,118.38 L415.75,118.67 L416.84,118.93 L417.93,119.22 L419.02,119.52 L420.11,119.80 L421.21,120.03 L422.31,120.17 L423.42,120.20 L424.53,120.19 L425.65,120.16 L426.77,120.13 L427.89,120.09 L429.02,120.04 L430.13,119.99 L431.25,119.92 L432.37,119.84 L433.48,119.74 L434.60,119.63 L435.71,119.51 L436.82,119.40 L437.94,119.28 L439.05,119.15 L440.16,119.01 L441.27,118.86 L442.38,118.70 L443.48,118.52 L444.58,118.31 L445.67,118.07 L446.75,117.79 L447.84,117.50 L448.92,117.20 L450.00,116.91 L451.08,116.62 L452.16,116.33 L453.25,116.04 L454.33,115.75 L455.40,115.44 L456.48,115.12 L457.54,114.78 L458.60,114.31 L459.65,113.87 L460.71,113.70 L461.86,113.94 L462.91,114.42 L463.63,115.00 L464.20,115.86 L464.69,116.92 L465.14,118.07 L465.58,119.20 L466.05,120.23 L466.52,121.25 L466.98,122.26 L467.44,123.29 L467.89,124.31 L468.33,125.34 L468.76,126.37 L469.18,127.41 L469.60,128.45 L470.00,129.50" fill="none" stroke="#E6A528" stroke-width="2.6" stroke-linejoin="round" stroke-linecap="butt" />
<path d="M338.60,202.00 L339.19,201.14 L339.67,200.25 L340.07,199.31 L340.42,198.33 L340.74,197.35 L341.04,196.36 L341.32,195.37 L341.57,194.37 L341.81,193.37 L342.03,192.36 L342.25,191.35 L342.47,190.34 L342.70,189.33 L342.94,188.33 L343.20,187.34 L343.48,186.36 L343.80,185.38 L344.13,184.41 L344.49,183.45 L344.87,182.49 L345.27,181.53 L345.67,180.58 L346.08,179.64 L346.50,178.69 L346.92,177.75 L347.34,176.82 L347.78,175.88 L348.22,174.96 L348.67,174.03 L349.13,173.11 L349.60,172.19 L350.07,171.27 L350.55,170.36 L351.04,169.45 L351.53,168.54 L352.02,167.64 L352.52,166.74 L353.01,165.83 L353.51,164.91 L354.01,164.00 L354.52,163.10 L355.04,162.20 L355.58,161.32 L356.14,160.47 L356.72,159.63 L357.33,158.83 L357.98,158.03 L358.65,157.23 L359.36,156.45 L360.10,155.71 L360.87,155.00 L361.66,154.36 L362.47,153.78 L363.34,153.24 L364.25,152.71 L365.20,152.26 L366.17,151.91 L367.16,151.68 L368.18,151.48 L369.21,151.34 L370.22,151.31 L371.20,151.46 L372.17,151.79 L373.12,152.23 L374.08,152.70 L375.04,153.16 L376.00,153.54 L376.98,153.87 L377.96,154.19 L378.94,154.52 L379.92,154.83 L380.91,155.12 L381.90,155.39 L382.90,155.62 L383.91,155.83 L384.92,156.03 L385.93,156.21 L386.95,156.38 L387.97,156.54 L388.98,156.70 L390.00,156.86 L391.02,157.01 L392.05,157.14 L393.08,157.27 L394.10,157.41 L395.11,157.56 L396.12,157.74 L397.11,158.01 L398.08,158.41 L399.05,158.85 L400.02,159.18 L401.01,159.30 L402.04,159.23 L403.09,159.10 L404.11,159.01 L405.06,159.12 L405.97,159.58 L406.86,160.23 L407.75,160.84 L408.69,161.22 L409.67,161.42 L410.69,161.58 L411.72,161.70 L412.75,161.83 L413.79,161.96 L414.80,162.14 L415.81,162.36 L416.80,162.61 L417.80,162.88 L418.79,163.15 L419.79,163.42 L420.79,163.67 L421.80,163.88 L422.80,164.09 L423.82,164.30 L424.83,164.49 L425.84,164.67 L426.86,164.83 L427.88,164.97 L428.90,165.07 L429.93,165.16 L430.95,165.24 L431.98,165.31 L433.01,165.38 L434.04,165.44 L435.07,165.50 L436.09,165.56 L437.12,165.62 L438.15,165.68 L439.18,165.73 L440.21,165.77 L441.24,165.80 L442.27,165.80 L443.30,165.77 L444.33,165.72 L445.36,165.65 L446.38,165.56 L447.40,165.45 L448.39,165.23 L449.38,164.93 L450.37,164.60 L451.36,164.29 L452.36,164.05 L453.37,163.85 L454.38,163.67 L455.40,163.51 L456.42,163.35 L457.43,163.18 L458.45,162.99 L459.45,162.78 L460.46,162.57 L461.47,162.33 L462.47,162.08 L463.46,161.80 L464.43,161.49 L465.39,161.14 L466.33,160.74 L467.27,160.31 L468.19,159.84 L469.10,159.33 L470.00,158.80" fill="none" stroke="#F0007D" stroke-width="2.6" stroke-linejoin="round" stroke-linecap="butt" />
</g>
<line x1="419.00" y1="19.10" x2="419.00" y2="23.30" stroke="#000" stroke-width="1.0" stroke-linecap="butt"/>
<path d="M417.00,21.30 L421.00,21.30 L419.55,27.70 L418.45,27.70 Z" fill="#000"/>
<line x1="449.90" y1="63.30" x2="449.90" y2="67.70" stroke="#000" stroke-width="1.0" stroke-linecap="butt"/>
<path d="M447.90,65.70 L451.90,65.70 L450.45,72.10 L449.35,72.10 Z" fill="#000"/>
<line x1="462.40" y1="103.50" x2="462.40" y2="108.00" stroke="#000" stroke-width="1.0" stroke-linecap="butt"/>
<path d="M460.40,106.00 L464.40,106.00 L462.95,112.40 L461.85,112.40 Z" fill="#000"/>
<text x="442.80" y="13.80" font-size="15" text-anchor="start" >13.4</text>
<text x="455.80" y="55.90" font-size="15" text-anchor="start" >9.8</text>
<text x="468.20" y="95.20" font-size="15" text-anchor="start" >4.7</text>
<text x="443.7" y="264.3" font-size="19.7" text-anchor="middle"><tspan font-style="italic">T</tspan> (K)</text>
<text transform="translate(324.3,89.6) rotate(-90)" font-size="19.7" text-anchor="middle" letter-spacing="0.08">d<tspan font-style="italic">ρ</tspan><tspan font-size="12.6" dy="3.3">xx</tspan><tspan dy="-3.3">/d</tspan><tspan font-style="italic" dx="1.5">T</tspan> (arb.units)</text>
<rect x="62.40" y="278.80" width="210.70" height="252.30" fill="none" stroke="#161616" stroke-width="1.4"/>
<text x="62.40" y="550.00" font-size="17.5" text-anchor="middle" >0</text>
<line x1="110.94" y1="531.10" x2="110.94" y2="526.90" stroke="#161616" stroke-width="1.4" stroke-linecap="butt"/>
<text x="110.94" y="550.00" font-size="17.5" text-anchor="middle" >3</text>
<line x1="159.48" y1="531.10" x2="159.48" y2="526.90" stroke="#161616" stroke-width="1.4" stroke-linecap="butt"/>
<text x="159.48" y="550.00" font-size="17.5" text-anchor="middle" >6</text>
<line x1="208.02" y1="531.10" x2="208.02" y2="526.90" stroke="#161616" stroke-width="1.4" stroke-linecap="butt"/>
<text x="208.02" y="550.00" font-size="17.5" text-anchor="middle" >9</text>
<line x1="256.56" y1="531.10" x2="256.56" y2="526.90" stroke="#161616" stroke-width="1.4" stroke-linecap="butt"/>
<text x="256.56" y="550.00" font-size="17.5" text-anchor="middle" >12</text>
<line x1="86.67" y1="531.10" x2="86.67" y2="528.90" stroke="#161616" stroke-width="1.4" stroke-linecap="butt"/>
<line x1="135.21" y1="531.10" x2="135.21" y2="528.90" stroke="#161616" stroke-width="1.4" stroke-linecap="butt"/>
<line x1="183.75" y1="531.10" x2="183.75" y2="528.90" stroke="#161616" stroke-width="1.4" stroke-linecap="butt"/>
<line x1="232.29" y1="531.10" x2="232.29" y2="528.90" stroke="#161616" stroke-width="1.4" stroke-linecap="butt"/>
<text x="57.20" y="537.00" font-size="17.5" text-anchor="end" >0</text>
<line x1="62.40" y1="440.80" x2="66.60" y2="440.80" stroke="#161616" stroke-width="1.4" stroke-linecap="butt"/>
<text x="57.20" y="446.70" font-size="17.5" text-anchor="end" >100</text>
<line x1="62.40" y1="350.50" x2="66.60" y2="350.50" stroke="#161616" stroke-width="1.4" stroke-linecap="butt"/>
<text x="57.20" y="356.40" font-size="17.5" text-anchor="end" >200</text>
<line x1="62.40" y1="485.95" x2="64.60" y2="485.95" stroke="#161616" stroke-width="1.4" stroke-linecap="butt"/>
<line x1="62.40" y1="395.65" x2="64.60" y2="395.65" stroke="#161616" stroke-width="1.4" stroke-linecap="butt"/>
<line x1="62.40" y1="305.35" x2="64.60" y2="305.35" stroke="#161616" stroke-width="1.4" stroke-linecap="butt"/>
<g clip-path="url(#clip_c)">
<path d="M68.50,355.60 L78.40,366.70 L91.20,371.80 L112.00,379.50 L137.80,388.40 L180.60,410.30 L220.70,430.90 L247.10,450.00" fill="none" stroke="#FF0000" stroke-width="2.3" stroke-linejoin="round" stroke-linecap="butt" />
<circle cx="68.50" cy="355.60" r="4.55" fill="none" stroke="#FF0000" stroke-width="2.1"/>
<circle cx="78.40" cy="366.70" r="4.55" fill="none" stroke="#FF0000" stroke-width="2.1"/>
<circle cx="91.20" cy="371.80" r="4.55" fill="none" stroke="#FF0000" stroke-width="2.1"/>
<circle cx="112.00" cy="379.50" r="4.55" fill="none" stroke="#FF0000" stroke-width="2.1"/>
<circle cx="137.80" cy="388.40" r="4.55" fill="none" stroke="#FF0000" stroke-width="2.1"/>
<circle cx="180.60" cy="410.30" r="4.55" fill="none" stroke="#FF0000" stroke-width="2.1"/>
<circle cx="220.70" cy="430.90" r="4.55" fill="none" stroke="#FF0000" stroke-width="2.1"/>
<circle cx="247.10" cy="450.00" r="4.55" fill="none" stroke="#FF0000" stroke-width="2.1"/>
<path d="M88.10,347.60 L95.00,358.10 L109.50,370.60 L131.80,378.90 L156.20,391.60 L170.80,400.90 L205.00,415.90 L243.70,437.20" fill="none" stroke="#0000FF" stroke-width="2.3" stroke-linejoin="round" stroke-linecap="butt" />
<rect x="83.95" y="343.45" width="8.3" height="8.3" fill="none" stroke="#0000FF" stroke-width="2.1"/>
<rect x="90.85" y="353.95" width="8.3" height="8.3" fill="none" stroke="#0000FF" stroke-width="2.1"/>
<rect x="105.35" y="366.45" width="8.3" height="8.3" fill="none" stroke="#0000FF" stroke-width="2.1"/>
<rect x="127.65" y="374.75" width="8.3" height="8.3" fill="none" stroke="#0000FF" stroke-width="2.1"/>
<rect x="152.05" y="387.45" width="8.3" height="8.3" fill="none" stroke="#0000FF" stroke-width="2.1"/>
<rect x="166.65" y="396.75" width="8.3" height="8.3" fill="none" stroke="#0000FF" stroke-width="2.1"/>
<rect x="200.85" y="411.75" width="8.3" height="8.3" fill="none" stroke="#0000FF" stroke-width="2.1"/>
<rect x="239.55" y="433.05" width="8.3" height="8.3" fill="none" stroke="#0000FF" stroke-width="2.1"/>
</g>
<rect x="176.00" y="320.2" width="83.6" height="45.4" fill="#fff" stroke="#161616" stroke-width="1.1"/>
<line x1="177.50" y1="334.00" x2="204.50" y2="334.00" stroke="#FF0000" stroke-width="2.2" stroke-linecap="butt"/>
<line x1="177.50" y1="355.90" x2="204.50" y2="355.90" stroke="#0000FF" stroke-width="2.2" stroke-linecap="butt"/>
<circle cx="190.90" cy="334.00" r="4.4" fill="none" stroke="#FF0000" stroke-width="2.1"/>
<rect x="186.90" y="351.90" width="8.0" height="8.0" fill="none" stroke="#0000FF" stroke-width="2.1"/>
<text x="209.60" y="337.70" font-size="17.5" text-anchor="start" >Run-1</text>
<text x="209.60" y="359.70" font-size="17.5" text-anchor="start" >Run-2</text>
<text x="65.00" y="298.20" font-size="17.5" text-anchor="start" >(c)</text>
<text x="167.7" y="580.4" font-size="19.7" text-anchor="middle"><tspan font-style="italic">P</tspan> (GPa)</text>
<text transform="translate(17.3,404.2) rotate(-90)" font-size="19.7" text-anchor="middle"><tspan font-style="italic">T</tspan><tspan font-size="12.6" dy="4.2">c</tspan><tspan dy="-4.2"> (K)</tspan></text>
<rect x="337.80" y="278.80" width="210.70" height="252.30" fill="none" stroke="#161616" stroke-width="1.4"/>
<text x="337.80" y="550.00" font-size="17.5" text-anchor="middle" >0</text>
<line x1="398.10" y1="531.10" x2="398.10" y2="526.90" stroke="#161616" stroke-width="1.4" stroke-linecap="butt"/>
<text x="398.10" y="550.00" font-size="17.5" text-anchor="middle" >10</text>
<line x1="458.40" y1="531.10" x2="458.40" y2="526.90" stroke="#161616" stroke-width="1.4" stroke-linecap="butt"/>
<text x="458.40" y="550.00" font-size="17.5" text-anchor="middle" >20</text>
<line x1="367.95" y1="531.10" x2="367.95" y2="528.90" stroke="#161616" stroke-width="1.4" stroke-linecap="butt"/>
<line x1="428.25" y1="531.10" x2="428.25" y2="528.90" stroke="#161616" stroke-width="1.4" stroke-linecap="butt"/>
<line x1="337.80" y1="489.05" x2="342.00" y2="489.05" stroke="#161616" stroke-width="1.4" stroke-linecap="butt"/>
<text x="332.60" y="494.95" font-size="17.5" text-anchor="end" >0.1</text>
<line x1="337.80" y1="404.95" x2="342.00" y2="404.95" stroke="#161616" stroke-width="1.4" stroke-linecap="butt"/>
<text x="332.60" y="410.85" font-size="17.5" text-anchor="end" >0.2</text>
<line x1="337.80" y1="320.85" x2="342.00" y2="320.85" stroke="#161616" stroke-width="1.4" stroke-linecap="butt"/>
<text x="332.60" y="326.75" font-size="17.5" text-anchor="end" >0.3</text>
<line x1="337.80" y1="447.00" x2="340.00" y2="447.00" stroke="#161616" stroke-width="1.4" stroke-linecap="butt"/>
<line x1="337.80" y1="362.90" x2="340.00" y2="362.90" stroke="#161616" stroke-width="1.4" stroke-linecap="butt"/>
<g clip-path="url(#clip_d)">
<path d="M340.40,360.90 L343.20,383.00 L349.00,403.90 L356.30,416.20 L366.20,425.80 L381.60,434.10 L396.40,436.10 L406.60,435.00 L418.60,432.00 L428.20,427.50 L442.70,423.80 L454.70,420.40 L465.80,417.30 L478.00,414.50" fill="none" stroke="#FF0000" stroke-width="2.3" stroke-linejoin="round" stroke-linecap="butt" />
<circle cx="340.40" cy="360.90" r="4.55" fill="none" stroke="#FF0000" stroke-width="2.1"/>
<circle cx="343.20" cy="383.00" r="4.55" fill="none" stroke="#FF0000" stroke-width="2.1"/>
<circle cx="349.00" cy="403.90" r="4.55" fill="none" stroke="#FF0000" stroke-width="2.1"/>
<circle cx="356.30" cy="416.20" r="4.55" fill="none" stroke="#FF0000" stroke-width="2.1"/>
<circle cx="366.20" cy="425.80" r="4.55" fill="none" stroke="#FF0000" stroke-width="2.1"/>
<circle cx="381.60" cy="434.10" r="4.55" fill="none" stroke="#FF0000" stroke-width="2.1"/>
<circle cx="396.40" cy="436.10" r="4.55" fill="none" stroke="#FF0000" stroke-width="2.1"/>
<circle cx="406.60" cy="435.00" r="4.55" fill="none" stroke="#FF0000" stroke-width="2.1"/>
<circle cx="418.60" cy="432.00" r="4.55" fill="none" stroke="#FF0000" stroke-width="2.1"/>
<circle cx="428.20" cy="427.50" r="4.55" fill="none" stroke="#FF0000" stroke-width="2.1"/>
<circle cx="442.70" cy="423.80" r="4.55" fill="none" stroke="#FF0000" stroke-width="2.1"/>
<circle cx="454.70" cy="420.40" r="4.55" fill="none" stroke="#FF0000" stroke-width="2.1"/>
<circle cx="465.80" cy="417.30" r="4.55" fill="none" stroke="#FF0000" stroke-width="2.1"/>
<circle cx="478.00" cy="414.50" r="4.55" fill="none" stroke="#FF0000" stroke-width="2.1"/>
<path d="M347.30,338.80 L350.00,397.40 L355.60,444.40 L363.30,461.50 L372.60,469.50 L378.30,477.10 L390.70,479.40 L405.00,472.90 L418.00,458.00 L423.60,445.50 L429.10,434.40 L433.00,428.40 L441.50,417.30" fill="none" stroke="#0000FF" stroke-width="2.3" stroke-linejoin="round" stroke-linecap="butt" />
<rect x="343.15" y="334.65" width="8.3" height="8.3" fill="none" stroke="#0000FF" stroke-width="2.1"/>
<rect x="345.85" y="393.25" width="8.3" height="8.3" fill="none" stroke="#0000FF" stroke-width="2.1"/>
<rect x="351.45" y="440.25" width="8.3" height="8.3" fill="none" stroke="#0000FF" stroke-width="2.1"/>
<rect x="359.15" y="457.35" width="8.3" height="8.3" fill="none" stroke="#0000FF" stroke-width="2.1"/>
<rect x="368.45" y="465.35" width="8.3" height="8.3" fill="none" stroke="#0000FF" stroke-width="2.1"/>
<rect x="374.15" y="472.95" width="8.3" height="8.3" fill="none" stroke="#0000FF" stroke-width="2.1"/>
<rect x="386.55" y="475.25" width="8.3" height="8.3" fill="none" stroke="#0000FF" stroke-width="2.1"/>
<rect x="400.85" y="468.75" width="8.3" height="8.3" fill="none" stroke="#0000FF" stroke-width="2.1"/>
<rect x="413.85" y="453.85" width="8.3" height="8.3" fill="none" stroke="#0000FF" stroke-width="2.1"/>
<rect x="419.45" y="441.35" width="8.3" height="8.3" fill="none" stroke="#0000FF" stroke-width="2.1"/>
<rect x="424.95" y="430.25" width="8.3" height="8.3" fill="none" stroke="#0000FF" stroke-width="2.1"/>
<rect x="428.85" y="424.25" width="8.3" height="8.3" fill="none" stroke="#0000FF" stroke-width="2.1"/>
<rect x="437.35" y="413.15" width="8.3" height="8.3" fill="none" stroke="#0000FF" stroke-width="2.1"/>
</g>
<rect x="452.10" y="320.2" width="83.6" height="45.4" fill="#fff" stroke="#161616" stroke-width="1.1"/>
<line x1="453.60" y1="334.00" x2="480.60" y2="334.00" stroke="#FF0000" stroke-width="2.2" stroke-linecap="butt"/>
<line x1="453.60" y1="355.90" x2="480.60" y2="355.90" stroke="#0000FF" stroke-width="2.2" stroke-linecap="butt"/>
<circle cx="467.00" cy="334.00" r="4.4" fill="none" stroke="#FF0000" stroke-width="2.1"/>
<rect x="463.00" y="351.90" width="8.0" height="8.0" fill="none" stroke="#0000FF" stroke-width="2.1"/>
<text x="485.70" y="337.70" font-size="17.5" text-anchor="start" >Run-1</text>
<text x="485.70" y="359.70" font-size="17.5" text-anchor="start" >Run-2</text>
<text x="340.40" y="298.20" font-size="17.5" text-anchor="start" >(d)</text>
<text x="443.6" y="580.4" font-size="19.7" text-anchor="middle"><tspan font-style="italic">P</tspan> (GPa)</text>
<text transform="translate(299.90,404.30) rotate(-90)" font-size="19.7" text-anchor="middle" letter-spacing="0.32"><tspan font-style="italic">ρ</tspan><tspan font-size="12.6" dy="3.3">xx</tspan><tspan dy="-3.3"> </tspan><tspan font-size="17">(</tspan>mΩ<tspan font-size="10" dx="-0.4" dy="-2.6">.</tspan><tspan dx="-0.4" dy="2.6">cm</tspan><tspan font-size="17">)</tspan></text>
</svg>
</body></html>
